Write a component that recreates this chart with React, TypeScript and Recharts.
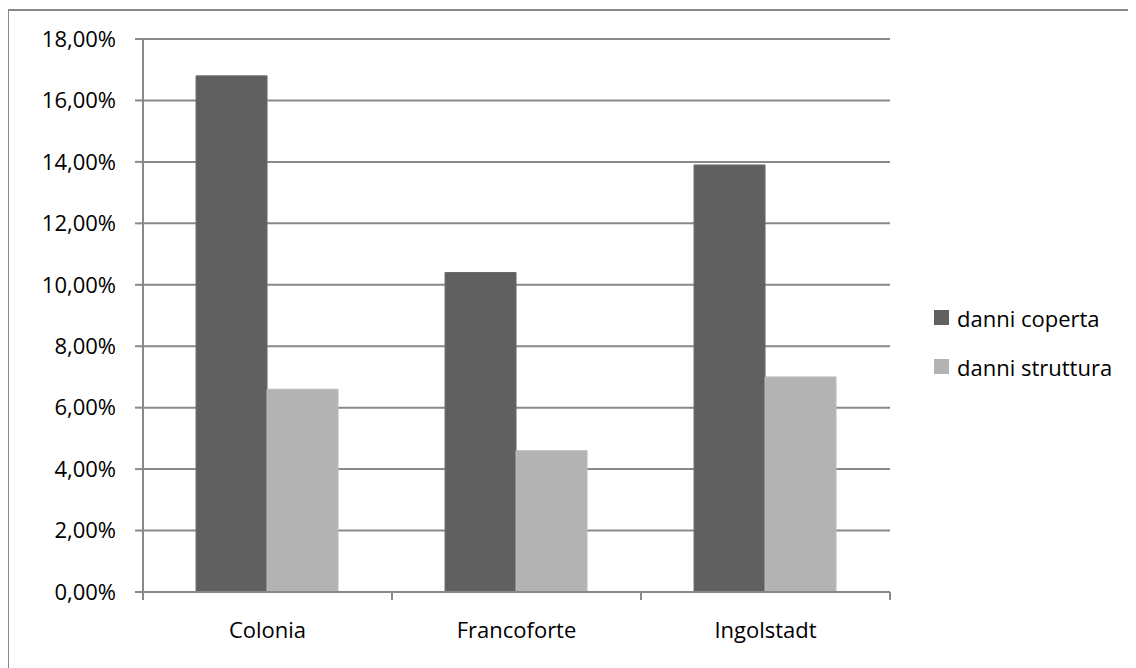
import { Bar, BarChart, CartesianGrid, Legend, XAxis, YAxis } from "recharts"

const cities = ["Colonia", "Francoforte", "Ingolstadt"]
const danniCoperta = [16.8, 10.4, 13.9]
const danniStruttura = [6.6, 4.6, 7.0]
const yTicks = [0, 2, 4, 6, 8, 10, 12, 14, 16, 18]

const data = cities.map((name, i) => ({
  name,
  coperta: danniCoperta[i],
  struttura: danniStruttura[i],
}))

const FONT = "'Open Sans', sans-serif"
const GRID = "#898989"
const DARK = "#606060"
const LIGHT = "#b3b3b3"
const BAND = 249

const pct = (v: number) => `${v.toFixed(2).replace(".", ",")}%`

function CityTick(props: any) {
  const { x, y, payload, index, visibleTicksCount } = props
  const last = index === visibleTicksCount - 1
  return (
    <g>
      <line x1={x - BAND / 2} x2={x - BAND / 2} y1={y} y2={y + 8} stroke={GRID} strokeWidth={2} />
      {last && <line x1={x + BAND / 2} x2={x + BAND / 2} y1={y} y2={y + 8} stroke={GRID} strokeWidth={2} />}
      <text x={x} y={y + 46} textAnchor="middle" fill="#000" fontSize={22} fontFamily={FONT}>
        {payload.value}
      </text>
    </g>
  )
}

function LegendBox() {
  const items = [
    { label: "danni coperta", color: DARK },
    { label: "danni struttura", color: LIGHT },
  ]
  return (
    <div style={{ fontFamily: FONT, fontSize: 22 }}>
      {items.map((it) => (
        <div key={it.label} style={{ display: "flex", alignItems: "center", height: 49 }}>
          <span style={{ width: 15, height: 15, background: it.color, marginRight: 8 }} />
          <span style={{ color: "#000", whiteSpace: "nowrap" }}>{it.label}</span>
        </div>
      ))}
    </div>
  )
}

export default function App() {
  return (
    <div
      style={{
        marginTop: 1,
        marginLeft: -1,
        width: 1140,
        height: 660,
        borderTop: `2px solid ${GRID}`,
        borderLeft: `2px solid ${GRID}`,
      }}
    >
      <BarChart
        width={1120}
        height={640}
        data={data}
        margin={{ top: 28, right: 239, bottom: 19, left: 14 }}
        barCategoryGap="21.3%"
        barGap={0}
      >
        <CartesianGrid vertical={false} stroke={GRID} strokeWidth={2} />
        <XAxis
          dataKey="name"
          stroke={GRID}
          strokeWidth={2}
          tickLine={false}
          tickSize={0}
          tickMargin={0}
          height={40}
          tick={<CityTick />}
          interval={0}
        />
        <YAxis
          domain={[0, 18]}
          ticks={yTicks}
          width={120}
          stroke={GRID}
          strokeWidth={2}
          tickSize={8}
          tickMargin={19}
          tickFormatter={pct}
          tick={{ fill: "#000", fontSize: 22, fontFamily: FONT }}
          interval={0}
        />
        <Legend
          layout="vertical"
          align="center"
          verticalAlign="middle"
          content={<LegendBox />}
          wrapperStyle={{ left: 925, top: 282, width: 200 }}
        />
        <Bar dataKey="coperta" name="danni coperta" fill={DARK} stroke="#6b6b6b" isAnimationActive={false} />
        <Bar dataKey="struttura" name="danni struttura" fill={LIGHT} stroke="#bcbcbc" isAnimationActive={false} />
      </BarChart>
    </div>
  )
}
